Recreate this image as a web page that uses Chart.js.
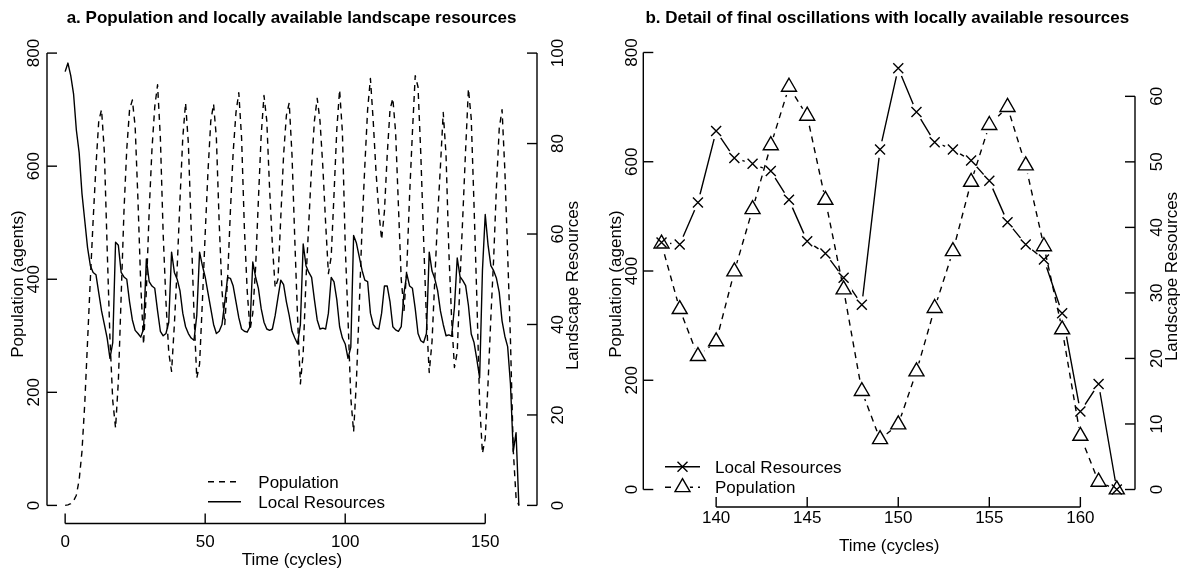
<!DOCTYPE html>
<html>
<head>
<meta charset="utf-8">
<title>Population and locally available landscape resources</title>
<script src="https://cdn.jsdelivr.net/npm/chart.js@4.4.1/dist/chart.umd.min.js"></script>
<style>
  body { margin: 0; background: #fff; }
  #wrap { position: relative; width: 1181px; height: 571px; }
  canvas { position: absolute; top: 0; }
  #painelA { left: 0; }
  #painelB { left: 590px; }
</style>
</head>
<body>
<div id="wrap">
  <canvas id="painelA" width="590" height="571"></canvas>
  <canvas id="painelB" width="591" height="571"></canvas>
</div>
<script>
// ================== DADOS ==================
const ciclos = [
  0, 1, 2, 3, 4, 5, 6, 7, 8, 9, 10, 11, 12, 13, 14, 15, 16, 17, 18, 19,
  20, 21, 22, 23, 24, 25, 26, 27, 28, 29, 30, 31, 32, 33, 34, 35, 36, 37, 38, 39,
  40, 41, 42, 43, 44, 45, 46, 47, 48, 49, 50, 51, 52, 53, 54, 55, 56, 57, 58, 59,
  60, 61, 62, 63, 64, 65, 66, 67, 68, 69, 70, 71, 72, 73, 74, 75, 76, 77, 78, 79,
  80, 81, 82, 83, 84, 85, 86, 87, 88, 89, 90, 91, 92, 93, 94, 95, 96, 97, 98, 99,
  100, 101, 102, 103, 104, 105, 106, 107, 108, 109, 110, 111, 112, 113, 114, 115, 116, 117, 118, 119,
  120, 121, 122, 123, 124, 125, 126, 127, 128, 129, 130, 131, 132, 133, 134, 135, 136, 137, 138, 139,
  140, 141, 142, 143, 144, 145, 146, 147, 148, 149, 150, 151, 152, 153, 154, 155, 156, 157, 158, 159,
  160, 161, 162
];

// Population (agents), left axis
const populacao = [
  0, 1, 3, 8, 18, 45, 95, 180, 290, 400, 505, 600, 680, 700, 625, 455, 295, 185, 137, 220,
  370, 520, 630, 700, 717, 670, 540, 390, 285, 380, 520, 630, 705, 744, 650, 480, 360, 270, 237, 320,
  420, 540, 650, 712, 640, 490, 340, 225, 250, 360, 480, 590, 680, 710, 650, 500, 380, 320, 400, 520,
  625, 695, 730, 650, 490, 380, 310, 340, 420, 540, 655, 725, 680, 560, 460, 385, 400, 510, 620, 690,
  712, 620, 470, 330, 215, 270, 400, 500, 600, 680, 720, 680, 600, 500, 410, 440, 550, 665, 735, 660,
  460, 330, 190, 130, 220, 350, 490, 600, 700, 755, 680, 590, 520, 470, 520, 620, 700, 720, 660, 530,
  400, 345, 420, 550, 660, 760, 740, 620, 470, 330, 235, 290, 400, 510, 600, 695, 620, 450, 330, 244,
  271, 399, 513, 630, 737, 684, 530, 366, 180, 92, 119, 216, 332, 436, 563, 667, 700, 593, 445, 293,
  98, 14, 0
];

// Landscape resources, right axis
const recursos = [
  95.9, 97.8, 95, 91, 83, 78, 69, 63, 57, 53, 51.5, 51, 47, 43, 40, 37, 32.5, 36, 58.2, 57.5,
  51.5, 50.5, 50, 45, 41, 38.7, 38, 37.2, 39, 54.5, 49.5, 48.5, 48, 43, 38.5, 37.5, 38, 40.5, 56, 51.5,
  50, 47.5, 42.5, 39.5, 38, 37, 36.5, 42, 56, 53, 50.5, 47, 43.5, 40, 38, 38.5, 40, 45, 50.4, 50.2,
  48.5, 45, 41.5, 39, 38.5, 38.3, 39.5, 53.8, 50.5, 48, 43.5, 40.5, 39, 38.7, 39, 42, 46, 49.8, 48.8, 45,
  42, 38.5, 37, 35.7, 40, 57.8, 53, 51.5, 50.4, 45.5, 41, 39, 39.2, 39, 42.5, 50.4, 49.4, 45.5, 39.5, 37,
  35.7, 32.5, 35, 59.7, 58, 55, 52, 49.8, 49.5, 42.5, 40, 39.2, 39, 42.5, 48.5, 48.5, 45, 39.5, 38.8, 38.5,
  39.5, 47, 51.2, 48.5, 48, 43.5, 38, 36.4, 36, 38, 56, 51.8, 50.1, 47.5, 43, 40, 37.5, 37.7, 37.4, 43.8,
  54.7, 50.6, 49.7, 48.6, 44.2, 37.9, 36.0, 32.3, 28.2, 51.9, 64.3, 57.6, 53.0, 51.9, 50.2, 47.1, 40.8, 37.4, 35.1, 26.9,
  11.9, 16.1, 0
];

// detail panel starts at cycle 137
const inicioDetalhe = 137;

const ticksTempoA = [0, 50, 100, 150];
const ticksTempoB = [140, 145, 150, 155, 160];
const ticksPopulacao = [0, 200, 400, 600, 800];
const ticksRecursosA = [0, 20, 40, 60, 80, 100];
const ticksRecursosB = [0, 10, 20, 30, 40, 50, 60];

const tituloA = "a. Population and locally available landscape resources";
const tituloB = "b. Detail of final oscillations with locally available resources";
const rotuloTempo = "Time (cycles)";
const rotuloPop = "Population (agents)";
const rotuloRec = "Landscape Resources";
const nomePop = "Population";
const nomeRec = "Local Resources";

// ================== ESTILO ==================
const FONTE = '17px "Liberation Sans", Arial, sans-serif';
const FONTE_TITULO = 'bold 17px "Liberation Sans", Arial, sans-serif';
const TICK = 10;
const LARGURA = 1.4;
const TRACO = [6, 5];
const GAP = 8.5;

function pares(xs, ys) {
  return xs.map((x, i) => ({ x: x, y: ys[i] }));
}

function linha(ctx, x1, y1, x2, y2) {
  ctx.beginPath();
  ctx.moveTo(x1, y1);
  ctx.lineTo(x2, y2);
  ctx.stroke();
}

function textoVertical(ctx, txt, x, y) {
  ctx.save();
  ctx.translate(x, y);
  ctx.rotate(-Math.PI / 2);
  ctx.textAlign = "center";
  ctx.textBaseline = "alphabetic";
  ctx.fillText(txt, 0, 0);
  ctx.restore();
}

function marcador(ctx, tipo, x, y) {
  ctx.beginPath();
  if (tipo === "triangle") {
    const r = 8.66;
    ctx.moveTo(x, y - r);
    ctx.lineTo(x + r * 0.866, y + r / 2);
    ctx.lineTo(x - r * 0.866, y + r / 2);
    ctx.closePath();
  } else {
    const d = 5;
    ctx.moveTo(x - d, y - d); ctx.lineTo(x + d, y + d);
    ctx.moveTo(x + d, y - d); ctx.lineTo(x - d, y + d);
  }
  ctx.stroke();
}

// ================== EIXOS / TÍTULOS / LEGENDA (estilo R) ==================
const eixosR = {
  id: "eixosR",
  afterDraw(chart, args, o) {
    const ctx = chart.ctx;
    const a = chart.chartArea;
    ctx.save();
    ctx.strokeStyle = "#000";
    ctx.fillStyle = "#000";
    ctx.lineWidth = LARGURA;
    ctx.setLineDash([]);
    ctx.font = FONTE;
    ctx.textBaseline = "alphabetic";

    // eixo x
    const sx = chart.scales.x;
    const px = o.xTicks.map(v => sx.getPixelForValue(v));
    linha(ctx, px[0], a.bottom, px[px.length - 1], a.bottom);
    ctx.textAlign = "center";
    o.xTicks.forEach((v, i) => {
      linha(ctx, px[i], a.bottom, px[i], a.bottom - TICK);
      ctx.fillText(String(v), px[i], a.bottom + o.xLabel);
    });
    ctx.fillText(rotuloTempo, (a.left + a.right) / 2, a.bottom + o.xTitulo);

    // eixo esquerdo (população)
    const sp = chart.scales.yPop;
    const py = ticksPopulacao.map(v => sp.getPixelForValue(v));
    linha(ctx, a.left, py[0], a.left, py[py.length - 1]);
    ticksPopulacao.forEach((v, i) => {
      linha(ctx, a.left, py[i], a.left + TICK, py[i]);
      textoVertical(ctx, String(v), a.left - o.esqLabel, py[i]);
    });
    textoVertical(ctx, rotuloPop, a.left - o.esqTitulo, o.esqTituloY);

    // eixo direito (recursos)
    const sr = chart.scales.yRes;
    const ry = o.resTicks.map(v => sr.getPixelForValue(v));
    linha(ctx, a.right, ry[0], a.right, ry[ry.length - 1]);
    o.resTicks.forEach((v, i) => {
      linha(ctx, a.right, ry[i], a.right - TICK, ry[i]);
      textoVertical(ctx, String(v), a.right + o.dirLabel, ry[i]);
    });
    textoVertical(ctx, rotuloRec, a.right + o.dirTitulo, o.dirTituloY);

    // título
    ctx.font = FONTE_TITULO;
    ctx.textAlign = "center";
    ctx.fillText(o.titulo, o.tituloX, o.tituloY);

    // legenda
    ctx.font = FONTE;
    ctx.textAlign = "left";
    o.legenda.forEach(item => {
      ctx.setLineDash(item.traco);
      linha(ctx, o.legX1, item.y, o.legX2, item.y);
      ctx.setLineDash([]);
      if (item.marca) {
        const xm = (o.legX1 + o.legX2) / 2;
        if (item.marca === "triangle") {
          ctx.fillStyle = "#fff";
          ctx.beginPath();
          ctx.arc(xm, item.y, 7.5, 0, Math.PI * 2);
          ctx.fill();
          ctx.fillStyle = "#000";
        }
        marcador(ctx, item.marca, xm, item.y);
      }
      ctx.fillText(item.texto, o.legTexto, item.y + 6);
    });
    ctx.restore();
  }
};

const basicos = {
  responsive: false,
  animation: false,
  devicePixelRatio: 1,
  events: []
};

// ================== PAINEL A ==================
new Chart(document.getElementById("painelA"), {
  type: "line",
  data: {
    datasets: [
      {
        label: nomePop,
        data: pares(ciclos, populacao),
        yAxisID: "yPop",
        borderColor: "#000",
        borderWidth: LARGURA,
        borderDash: TRACO,
        borderJoinStyle: "round",
        pointRadius: 0,
        tension: 0
      },
      {
        label: nomeRec,
        data: pares(ciclos, recursos),
        yAxisID: "yRes",
        borderColor: "#000",
        borderWidth: LARGURA,
        borderJoinStyle: "round",
        pointRadius: 0,
        tension: 0
      }
    ]
  },
  options: Object.assign({}, basicos, {
    layout: { padding: { left: 47, right: 53, top: 35, bottom: 47.5 } },
    scales: {
      x: { type: "linear", min: -6.48, max: 168.48, display: false },
      yPop: { type: "linear", position: "left", min: -32, max: 832, display: false },
      yRes: { type: "linear", position: "right", min: -4, max: 104, display: false }
    },
    plugins: {
      legend: { display: false },
      tooltip: { enabled: false },
      eixosR: {
        xTicks: ticksTempoA,
        resTicks: ticksRecursosA,
        xLabel: 23.8,
        xTitulo: 41.5,
        esqLabel: 7.7,
        esqTitulo: 24.5,
        esqTituloY: 284,
        dirLabel: 25.7,
        dirTitulo: 41.2,
        dirTituloY: 285.5,
        titulo: tituloA,
        tituloX: 291.5,
        tituloY: 23.3,
        legX1: 208,
        legX2: 241,
        legTexto: 258.3,
        legenda: [
          { texto: nomePop, traco: TRACO, y: 481.7 },
          { texto: nomeRec, traco: [], y: 501.7 }
        ]
      }
    }
  }),
  plugins: [eixosR]
});

// ================== PAINEL B (detalhe) ==================
const ciclosB = ciclos.slice(ciclos.indexOf(inicioDetalhe));
const popB = populacao.slice(ciclos.indexOf(inicioDetalhe));
const recB = recursos.slice(ciclos.indexOf(inicioDetalhe));

new Chart(document.getElementById("painelB"), {
  type: "line",
  data: {
    datasets: [
      // linha dos recursos
      { label: nomeRec, data: pares(ciclosB, recB), yAxisID: "yRes", order: 6,
        borderColor: "#000", borderWidth: LARGURA, borderJoinStyle: "round", pointRadius: 0, tension: 0 },
      // falhas brancas em volta dos pontos (tipo "b")
      { label: "gapRec", data: pares(ciclosB, recB), yAxisID: "yRes", order: 5, showLine: false,
        pointRadius: GAP, pointBackgroundColor: "#fff", pointBorderWidth: 0 },
      // linha da população
      { label: nomePop, data: pares(ciclosB, popB), yAxisID: "yPop", order: 4,
        borderColor: "#000", borderWidth: LARGURA, borderDash: TRACO, borderJoinStyle: "round", pointRadius: 0, tension: 0 },
      { label: "gapPop", data: pares(ciclosB, popB), yAxisID: "yPop", order: 3, showLine: false,
        pointRadius: GAP, pointBackgroundColor: "#fff", pointBorderWidth: 0 },
      // marcadores
      { label: nomeRec + " x", data: pares(ciclosB, recB), yAxisID: "yRes", order: 2, showLine: false,
        pointStyle: "crossRot", pointRadius: 7.07, pointBorderColor: "#000", pointBorderWidth: LARGURA },
      { label: nomePop + " tri", data: pares(ciclosB, popB), yAxisID: "yPop", order: 1, showLine: false,
        pointStyle: "triangle", pointRadius: 8.66, pointBackgroundColor: "rgba(0,0,0,0)",
        pointBorderColor: "#000", pointBorderWidth: LARGURA }
    ]
  },
  options: Object.assign({}, basicos, {
    layout: { padding: { left: 53.3, right: 46, top: 35, bottom: 64 } },
    scales: {
      x: { type: "linear", min: 136, max: 163, display: false },
      yPop: { type: "linear", position: "left", min: -32, max: 832, display: false },
      yRes: { type: "linear", position: "right", min: -2.67, max: 69.36, display: false }
    },
    plugins: {
      legend: { display: false },
      tooltip: { enabled: false },
      eixosR: {
        xTicks: ticksTempoB,
        resTicks: ticksRecursosB,
        xLabel: 15.7,
        xTitulo: 43.5,
        esqLabel: 6.3,
        esqTitulo: 22.8,
        esqTituloY: 284,
        dirLabel: 26.7,
        dirTitulo: 41.5,
        dirTituloY: 276.5,
        titulo: tituloB,
        tituloX: 297.3,
        tituloY: 23.3,
        legX1: 75,
        legX2: 110,
        legTexto: 125,
        legenda: [
          { texto: nomeRec, traco: [], y: 466.7, marca: "cross" },
          { texto: nomePop, traco: TRACO, y: 487.3, marca: "triangle" }
        ]
      }
    }
  }),
  plugins: [eixosR]
});
</script>
</body>
</html>
